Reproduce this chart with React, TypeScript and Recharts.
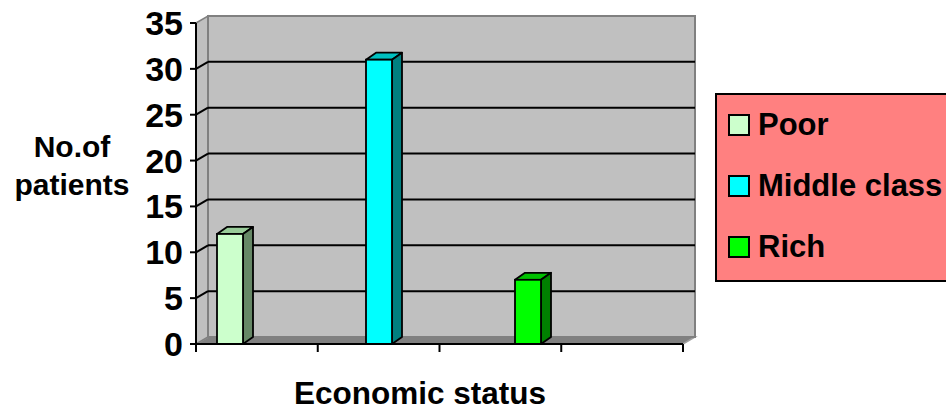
import React from 'react';
import { BarChart, Bar, XAxis, YAxis, CartesianGrid, ReferenceArea } from 'recharts';

const categories = ['Economic status'];
const seriesNames = ['Poor', 'Middle class', 'Rich'];
const poorValues = [12];
const middleValues = [31];
const richValues = [7];
const yTicks = [0, 5, 10, 15, 20, 25, 30, 35];
const gridValues = [5, 10, 15, 20, 25, 30];
const xTickSlots = [0, 1, 2, 3, 4];

const seriesKeys = ['poor', 'middle', 'rich'];
const frontColors = ['#CCFFCC', '#00FFFF', '#00FF00'];
const topColors = ['#99CC99', '#00C0C0', '#00C000'];
const sideColors = ['#668866', '#008080', '#008000'];

const data = categories.map((c, i) => ({
  name: c,
  poor: poorValues[i],
  middle: middleValues[i],
  rich: richValues[i],
}));

const FONT = '"Liberation Sans", Arial, Helvetica, sans-serif';
const DX = 10;
const DY = 7;
const WX = 12;
const WY = 7;

const makeBar = (idx: number) => (props: any) => {
  const { x, y, width, height } = props;
  if (width == null || height == null) return <g />;
  return (
    <g>
      <polygon
        points={`${x},${y} ${x + DX},${y - DY} ${x + width + DX},${y - DY} ${x + width},${y}`}
        fill={topColors[idx]}
        stroke="#000"
        strokeWidth={1.8}
        strokeLinejoin="round"
      />
      <polygon
        points={`${x + width},${y} ${x + width + DX},${y - DY} ${x + width + DX},${y + height - DY} ${x + width},${y + height}`}
        fill={sideColors[idx]}
        stroke="#000"
        strokeWidth={1.8}
        strokeLinejoin="round"
      />
      <rect x={x} y={y} width={width} height={height} fill={frontColors[idx]} stroke="#000" strokeWidth={1.8} />
    </g>
  );
};

const Walls = (props: any) => {
  const { x, y, width, height } = props;
  return (
    <g>
      <polygon
        points={`${x},${y + height} ${x + WX},${y + height - WY} ${x + width + WX},${y + height - WY} ${x + width},${y + height}`}
        fill="#808080"
        stroke="#A0A0A0"
        strokeWidth={1.5}
      />
      <polygon
        points={`${x},${y} ${x + WX},${y - WY} ${x + WX},${y + height - WY} ${x},${y + height}`}
        fill="#C0C0C0"
        stroke="#808080"
        strokeWidth={1.5}
      />
      <rect x={x + WX} y={y - WY} width={width} height={height} fill="#C0C0C0" stroke="#808080" strokeWidth={2} />
    </g>
  );
};

const GridLine = (props: any) => {
  const { x1, x2, y1 } = props;
  return (
    <g key={props.key}>
      <line x1={x1 + WX} x2={x2 + WX} y1={y1 - WY} y2={y1 - WY} stroke="#000" strokeWidth={2} />
      <line x1={x1} x2={x1 + WX} y1={y1} y2={y1 - WY} stroke="#000" strokeWidth={2} />
    </g>
  );
};

const YLabel = (props: any) => {
  const vb = props.viewBox || { x: 0, y: 0 };
  const cx = vb.x + 72;
  return (
    <g>
      <text x={cx} y={vb.y + 134} textAnchor="middle" fontFamily={FONT} fontWeight="bold" fontSize={30} fill="#000">
        No.of
      </text>
      <text x={cx} y={vb.y + 172} textAnchor="middle" fontFamily={FONT} fontWeight="bold" fontSize={30} fill="#000">
        patients
      </text>
    </g>
  );
};

const XLabel = (props: any) => {
  const vb = props.viewBox || { x: 0, y: 0 };
  return (
    <text x={vb.x + 224} y={vb.y + 60} textAnchor="middle" fontFamily={FONT} fontWeight="bold" fontSize={31.5} fill="#000">
      Economic status
    </text>
  );
};

const EmptyTick = () => <g />;

const LegendBox = () => (
  <div
    style={{
      position: 'absolute',
      left: 715,
      top: 93,
      width: 280,
      height: 189,
      boxSizing: 'border-box',
      background: '#FF8080',
      border: '2px solid #000',
      fontFamily: FONT,
    }}
  >
    {seriesNames.map((name, i) => (
      <div
        key={name}
        style={{
          position: 'absolute',
          left: 11,
          top: 19 + i * 61,
          height: 22,
          display: 'flex',
          alignItems: 'center',
          whiteSpace: 'nowrap',
        }}
      >
        <div
          style={{
            width: 22,
            height: 22,
            boxSizing: 'border-box',
            border: '2px solid #000',
            background: frontColors[i],
          }}
        />
        <span style={{ marginLeft: 8, fontSize: 31, fontWeight: 'bold', color: '#000', lineHeight: '22px' }}>{name}</span>
      </div>
    ))}
  </div>
);

const slotKey = () => 0;

export default function App() {
  return (
    <div style={{ position: 'absolute', left: 0, top: 0, width: 946, height: 410, overflow: 'hidden', background: '#fff' }}>
      <BarChart
        width={946}
        height={410}
        data={data}
        margin={{ top: 23, right: 263, bottom: 0, left: 0 }}
        barSize={26}
        barGap={123}
      >
        <ReferenceArea
          xAxisId="t"
          yAxisId="y"
          x1={0}
          x2={4}
          y1={0}
          y2={35}
          shape={Walls}
          zIndex={-200}
          ifOverflow="visible"
        />
        <CartesianGrid
          xAxisId="t"
          yAxisId="y"
          vertical={false}
          horizontalValues={gridValues}
          horizontal={GridLine}
          fill="none"
          zIndex={-150}
        />
        <XAxis xAxisId="cat" dataKey="name" type="category" hide height={0} padding={{ left: 0, right: 121 }} />
        <XAxis
          xAxisId="t"
          dataKey={slotKey}
          type="number"
          domain={[0, 4]}
          ticks={xTickSlots}
          interval={0}
          allowDataOverflow
          tick={EmptyTick}
          tickSize={8}
          height={66}
          axisLine={{ stroke: '#000', strokeWidth: 2 }}
          tickLine={{ stroke: '#000', strokeWidth: 2 }}
          label={{ content: XLabel }}
        />
        <YAxis
          yAxisId="y"
          domain={[0, 35]}
          ticks={yTicks}
          width={196}
          tickSize={6}
          tickMargin={7}
          interval={0}
          axisLine={{ stroke: '#000', strokeWidth: 2 }}
          tickLine={{ stroke: '#000', strokeWidth: 2 }}
          tick={{ fontFamily: FONT, fontWeight: 'bold', fontSize: 34, fill: '#000' }}
          label={{ content: YLabel }}
        />
        {seriesKeys.map((k, i) => (
          <Bar
            key={k}
            dataKey={k}
            name={seriesNames[i]}
            xAxisId="cat"
            yAxisId="y"
            shape={makeBar(i)}
            isAnimationActive={false}
          />
        ))}
      </BarChart>
      <LegendBox />
    </div>
  );
}
